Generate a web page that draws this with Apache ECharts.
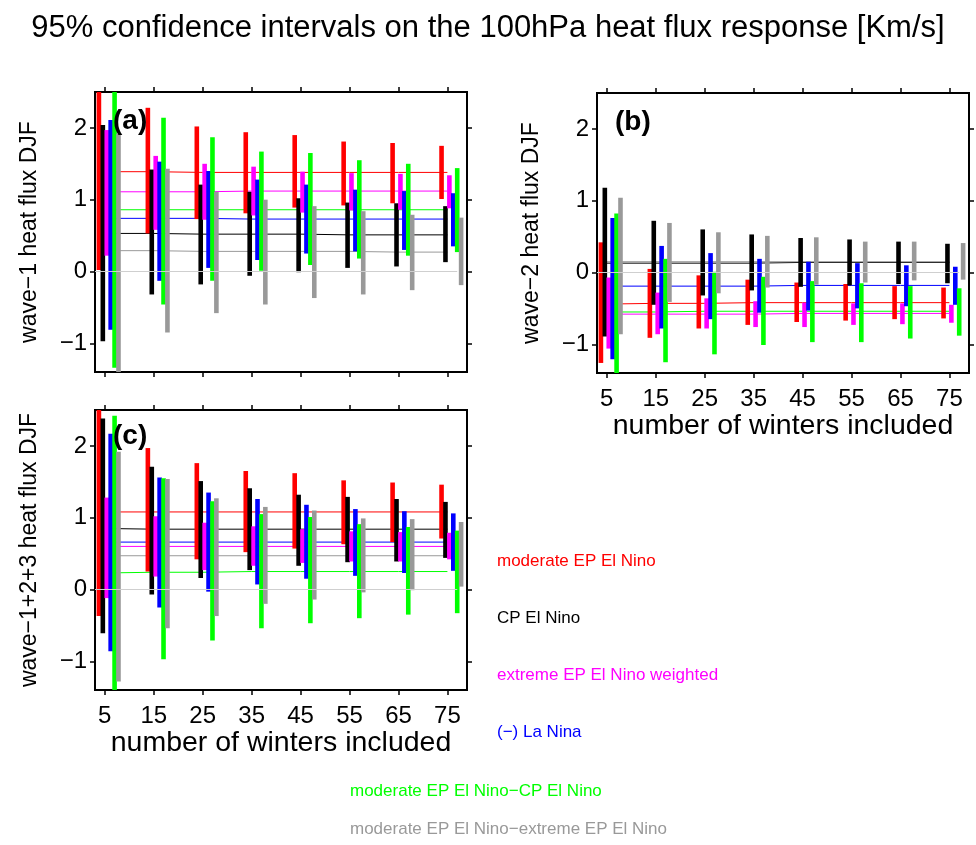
<!DOCTYPE html>
<html><head><meta charset="utf-8">
<script src="https://cdn.jsdelivr.net/npm/echarts@6/dist/echarts.min.js"></script>
<style>html,body{margin:0;padding:0;background:#fff}#c{width:976px;height:845px}</style>
</head><body><div id="c"></div>
<script>
// ---------- data ----------
const winters = [5, 15, 25, 35, 45, 55, 65, 75];
const yTicks = [-1, 0, 1, 2];
const zeroLineX = [3, 77];
const seriesNames = ['moderate EP El Nino', 'CP El Nino', 'extreme EP El Nino weighted', '(−) La Nina',
  'moderate EP El Nino−CP El Nino', 'moderate EP El Nino−extreme EP El Nino'];
const titleText = '95% confidence intervals on the 100hPa heat flux response [Km/s]';
const yNames = ['wave−1 heat flux DJF', 'wave−2 heat flux DJF', 'wave−1+2+3 heat flux DJF'];
const xName = 'number of winters included';
const panelLetters = ['(a)', '(b)', '(c)'];

// panel (a): wave-1
const a_modEP_lo = [0.02, 0.53, 0.73, 0.81, 0.89, 0.92, 0.95, 1.01];
const a_modEP_hi = [2.9, 2.28, 2.02, 1.94, 1.90, 1.81, 1.79, 1.75];
const a_cp_lo = [-0.97, -0.32, -0.18, -0.06, -0.01, 0.05, 0.07, 0.13];
const a_cp_hi = [2.04, 1.42, 1.21, 1.11, 1.02, 0.96, 0.95, 0.91];
const a_extEP_lo = [0.22, 0.58, 0.72, 0.78, 0.82, 0.85, 0.86, 0.88];
const a_extEP_hi = [1.97, 1.61, 1.50, 1.46, 1.39, 1.37, 1.36, 1.34];
const a_laNina_lo = [-0.81, -0.13, 0.05, 0.16, 0.25, 0.28, 0.30, 0.35];
const a_laNina_hi = [2.11, 1.53, 1.40, 1.28, 1.21, 1.14, 1.12, 1.09];
const a_modMinusCP_lo = [-1.34, -0.46, -0.13, 0.01, 0.09, 0.18, 0.22, 0.27];
const a_modMinusCP_hi = [2.9, 2.14, 1.87, 1.67, 1.65, 1.55, 1.50, 1.44];
const a_modMinusExt_lo = [-1.6, -0.85, -0.58, -0.46, -0.37, -0.32, -0.26, -0.19];
const a_modMinusExt_hi = [1.92, 1.43, 1.11, 1.00, 0.91, 0.84, 0.79, 0.75];
const a_modEP_mean = [1.39, 1.39, 1.38, 1.38, 1.38, 1.38, 1.38, 1.38];
const a_cp_mean = [0.53, 0.53, 0.52, 0.52, 0.52, 0.51, 0.51, 0.51];
const a_extEP_mean = [1.11, 1.11, 1.11, 1.12, 1.12, 1.12, 1.12, 1.12];
const a_laNina_mean = [0.74, 0.74, 0.74, 0.73, 0.73, 0.73, 0.73, 0.73];
const a_modMinusCP_mean = [0.86, 0.86, 0.86, 0.86, 0.86, 0.86, 0.86, 0.86];
const a_modMinusExt_mean = [0.29, 0.29, 0.28, 0.28, 0.28, 0.28, 0.27, 0.27];

// panel (b): wave-2
const b_modEP_lo = [-1.26, -0.91, -0.78, -0.73, -0.69, -0.67, -0.65, -0.64];
const b_modEP_hi = [0.42, 0.05, -0.04, -0.10, -0.14, -0.16, -0.19, -0.21];
const b_cp_lo = [-0.89, -0.45, -0.32, -0.25, -0.20, -0.18, -0.16, -0.15];
const b_cp_hi = [1.18, 0.72, 0.60, 0.53, 0.48, 0.46, 0.43, 0.40];
const b_extEP_lo = [-1.06, -0.86, -0.78, -0.76, -0.76, -0.73, -0.72, -0.70];
const b_extEP_hi = [-0.07, -0.28, -0.36, -0.40, -0.42, -0.43, -0.43, -0.45];
const b_laNina_lo = [-1.21, -0.78, -0.65, -0.56, -0.53, -0.50, -0.47, -0.45];
const b_laNina_hi = [0.76, 0.37, 0.27, 0.19, 0.15, 0.13, 0.10, 0.08];
const b_modMinusCP_lo = [-1.6, -1.25, -1.14, -1.01, -0.97, -0.97, -0.92, -0.88];
const b_modMinusCP_hi = [0.82, 0.19, 0.01, -0.06, -0.12, -0.15, -0.19, -0.22];
const b_modMinusExt_lo = [-0.86, -0.41, -0.29, -0.21, -0.17, -0.14, -0.11, -0.10];
const b_modMinusExt_hi = [1.04, 0.69, 0.56, 0.51, 0.49, 0.43, 0.43, 0.41];
const b_modEP_mean = [-0.44, -0.43, -0.43, -0.42, -0.42, -0.42, -0.42, -0.42];
const b_cp_mean = [0.13, 0.13, 0.13, 0.13, 0.14, 0.14, 0.14, 0.14];
const b_extEP_mean = [-0.58, -0.58, -0.58, -0.58, -0.57, -0.57, -0.57, -0.57];
const b_laNina_mean = [-0.19, -0.19, -0.19, -0.19, -0.18, -0.18, -0.18, -0.18];
const b_modMinusCP_mean = [-0.55, -0.55, -0.54, -0.54, -0.54, -0.54, -0.54, -0.54];
const b_modMinusExt_mean = [0.15, 0.15, 0.15, 0.15, 0.15, 0.15, 0.15, 0.15];

// panel (c): wave-1+2+3
const c_modEP_lo = [-0.37, 0.25, 0.42, 0.52, 0.57, 0.63, 0.66, 0.71];
const c_modEP_hi = [2.8, 1.97, 1.76, 1.65, 1.62, 1.52, 1.49, 1.46];
const c_cp_lo = [-0.61, -0.07, 0.16, 0.27, 0.33, 0.38, 0.39, 0.44];
const c_cp_hi = [2.38, 1.71, 1.51, 1.41, 1.32, 1.29, 1.26, 1.22];
const c_extEP_lo = [-0.12, 0.18, 0.27, 0.33, 0.37, 0.39, 0.39, 0.42];
const c_extEP_hi = [1.28, 1.02, 0.93, 0.88, 0.84, 0.81, 0.80, 0.79];
const c_laNina_lo = [-0.86, -0.25, -0.03, 0.07, 0.15, 0.19, 0.23, 0.26];
const c_laNina_hi = [2.17, 1.56, 1.35, 1.26, 1.18, 1.12, 1.09, 1.06];
const c_modMinusCP_lo = [-1.6, -0.97, -0.71, -0.54, -0.47, -0.40, -0.35, -0.33];
const c_modMinusCP_hi = [2.42, 1.55, 1.23, 1.05, 1.01, 0.91, 0.87, 0.82];
const c_modMinusExt_lo = [-1.28, -0.54, -0.37, -0.20, -0.14, -0.04, -0.01, 0.04];
const c_modMinusExt_hi = [1.92, 1.54, 1.27, 1.15, 1.10, 0.99, 0.98, 0.94];
const c_modEP_mean = [1.08, 1.08, 1.08, 1.08, 1.08, 1.08, 1.08, 1.08];
const c_cp_mean = [0.85, 0.84, 0.84, 0.84, 0.84, 0.84, 0.84, 0.84];
const c_extEP_mean = [0.60, 0.60, 0.60, 0.60, 0.60, 0.60, 0.60, 0.60];
const c_laNina_mean = [0.66, 0.66, 0.66, 0.66, 0.66, 0.66, 0.66, 0.66];
const c_modMinusCP_mean = [0.23, 0.24, 0.24, 0.25, 0.25, 0.25, 0.25, 0.25];
const c_modMinusExt_mean = [0.47, 0.47, 0.47, 0.47, 0.47, 0.47, 0.47, 0.47];

// ---------- assembly ----------
const panels = [
  { lo: [a_modEP_lo, a_cp_lo, a_extEP_lo, a_laNina_lo, a_modMinusCP_lo, a_modMinusExt_lo],
    hi: [a_modEP_hi, a_cp_hi, a_extEP_hi, a_laNina_hi, a_modMinusCP_hi, a_modMinusExt_hi],
    mean: [a_modEP_mean, a_cp_mean, a_extEP_mean, a_laNina_mean, a_modMinusCP_mean, a_modMinusExt_mean] },
  { lo: [b_modEP_lo, b_cp_lo, b_extEP_lo, b_laNina_lo, b_modMinusCP_lo, b_modMinusExt_lo],
    hi: [b_modEP_hi, b_cp_hi, b_extEP_hi, b_laNina_hi, b_modMinusCP_hi, b_modMinusExt_hi],
    mean: [b_modEP_mean, b_cp_mean, b_extEP_mean, b_laNina_mean, b_modMinusCP_mean, b_modMinusExt_mean] },
  { lo: [c_modEP_lo, c_cp_lo, c_extEP_lo, c_laNina_lo, c_modMinusCP_lo, c_modMinusExt_lo],
    hi: [c_modEP_hi, c_cp_hi, c_extEP_hi, c_laNina_hi, c_modMinusCP_hi, c_modMinusExt_hi],
    mean: [c_modEP_mean, c_cp_mean, c_extEP_mean, c_laNina_mean, c_modMinusCP_mean, c_modMinusExt_mean] }
];

const FONT = '"Liberation Sans", Arial, Helvetica, sans-serif';
const colors = ['#ff0000', '#000000', '#ff00ff', '#0000ff', '#00ff00', '#999999'];
const grids = [
  { left: 95, top: 92, width: 372, height: 280 },
  { left: 597, top: 93, width: 372, height: 280 },
  { left: 95, top: 410, width: 372, height: 280 }
];
const showXLabels = [false, true, true];
const letterPos = [[113, 121.5], [615, 122.5], [113, 436.5]];
const barOffsetStep = 0.8;   // winters between neighbouring bars
const barWidthPx = 4.6;

const fmtNum = v => (v < 0 ? '−' + Math.abs(v) : String(v));
const tickStyle = { show: true, inside: false, length: 5, lineStyle: { color: '#000', width: 1.5 } };

const xAxes = [], yAxes = [], series = [];
grids.forEach((g, gi) => {
  ['bottom', 'top'].forEach((pos, k) => {
    xAxes.push({
      gridIndex: gi, type: 'value', min: 3, max: 79, position: pos,
      axisLine: { show: false, onZero: false }, splitLine: { show: false },
      axisTick: Object.assign({ customValues: winters }, tickStyle),
      axisLabel: { show: k === 0 && showXLabels[gi], customValues: winters, fontSize: 24, color: '#000', margin: 14, fontFamily: FONT },
      name: (k === 0 && showXLabels[gi]) ? xName : '',
      nameLocation: 'middle', nameGap: 36,
      nameTextStyle: { fontSize: 28.5, color: '#000', fontFamily: FONT }
    });
  });
  ['left', 'right'].forEach((pos, k) => {
    yAxes.push({
      gridIndex: gi, type: 'value', min: -1.4, max: 2.5, position: pos,
      axisLine: { show: false, onZero: false }, splitLine: { show: false },
      axisTick: Object.assign({ customValues: yTicks }, tickStyle),
      axisLabel: { show: k === 0, customValues: yTicks, formatter: fmtNum, fontSize: 24, color: '#000', margin: 8, fontFamily: FONT },
      name: k === 0 ? yNames[gi] : '',
      nameLocation: 'middle', nameGap: 54, nameRotate: 90,
      nameTextStyle: { fontSize: 23, color: '#000', fontFamily: FONT }
    });
  });

  const p = panels[gi];
  for (let s = 0; s < 6; s++) {
    series.push({
      name: seriesNames[s], type: 'line', xAxisIndex: gi * 2, yAxisIndex: gi * 2,
      data: winters.map((w, i) => [w, p.mean[s][i]]),
      showSymbol: false, symbol: 'none', silent: true, z: 2,
      lineStyle: { width: 1, color: colors[s] }, itemStyle: { color: colors[s] },
      animation: false
    });
  }
  for (let s = 0; s < 6; s++) {
    const off = (s - 1.5) * barOffsetStep;
    const col = colors[s];
    series.push({
      name: seriesNames[s], type: 'custom', xAxisIndex: gi * 2, yAxisIndex: gi * 2,
      data: winters.map((w, i) => [w, p.lo[s][i], p.hi[s][i]]),
      itemStyle: { color: col }, z: 3, animation: false,
      renderItem: function (params, api) {
        const x = api.value(0) + off;
        const pLo = api.coord([x, api.value(1)]);
        const pHi = api.coord([x, api.value(2)]);
        const cs = params.coordSys;
        const r = echarts.graphic.clipRectByRect(
          { x: pLo[0] - barWidthPx / 2, y: pHi[1], width: barWidthPx, height: pLo[1] - pHi[1] },
          { x: cs.x, y: cs.y, width: cs.width, height: cs.height });
        if (!r) return null;
        return { type: 'rect', shape: r, style: { fill: col } };
      }
    });
  }
  series.push({
    type: 'line', xAxisIndex: gi * 2, yAxisIndex: gi * 2,
    data: zeroLineX.map(x => [x, 0]), showSymbol: false, symbol: 'none', silent: true, z: 5,
    lineStyle: { width: 1, color: '#cfcfcf' }, animation: false
  });
});

const legendText = (name, i) => ({ name, icon: 'none', textStyle: { color: colors[i] } });

const option = {
  animation: false,
  backgroundColor: '#fff',
  title: {
    text: titleText, left: 'center', top: 8,
    textStyle: { fontSize: 31, fontWeight: 'normal', color: '#000', fontFamily: FONT }
  },
  grid: grids.map(g => Object.assign({ show: true, borderColor: '#000', borderWidth: 2, backgroundColor: 'transparent', containLabel: false }, g)),
  xAxis: xAxes,
  yAxis: yAxes,
  legend: [
    { orient: 'vertical', left: 492, top: 551, padding: 0, itemWidth: 0, itemHeight: 20, itemGap: 37,
      textStyle: { fontSize: 17, fontFamily: FONT, lineHeight: 20 },
      data: seriesNames.slice(0, 4).map((n, i) => legendText(n, i)) },
    { orient: 'vertical', left: 345, top: 781, padding: 0, itemWidth: 0, itemHeight: 20, itemGap: 18,
      textStyle: { fontSize: 17, fontFamily: FONT, lineHeight: 20 },
      data: seriesNames.slice(4).map((n, i) => legendText(n, i + 4)) }
  ],
  graphic: panelLetters.map((t, i) => ({
    type: 'text', x: letterPos[i][0], y: letterPos[i][1], z: 100,
    style: { text: t, font: 'bold 28px ' + FONT, fill: '#000', verticalAlign: 'middle', align: 'left' }
  })),
  series: series
};

const chart = echarts.init(document.getElementById('c'), null, { renderer: 'canvas' });
chart.setOption(option);
</script></body></html>
